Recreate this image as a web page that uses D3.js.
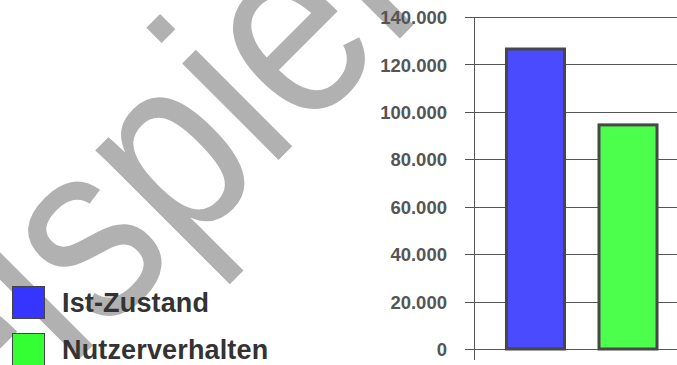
<!DOCTYPE html>
<html>
<head>
<meta charset="utf-8">
<script src="https://cdn.jsdelivr.net/npm/d3@7"></script>
<style>
  html, body { margin: 0; padding: 0; background: #fff; }
  svg { display: block; }
</style>
</head>
<body>
<svg id="chart" width="677" height="365"></svg>
<script>
// Chart data
const categories = ["Ist-Zustand", "Nutzerverhalten"];
const values = [126500, 94500];
const colors = ["#4a4aff", "#4cff4c"];
const legendColors = ["#3535ff", "#33ff33"];
const yTicks = [0, 20000, 40000, 60000, 80000, 100000, 120000, 140000];
const watermarkText = "Beispiel";

const W = 677, H = 365;
const svg = d3.select("#chart");

const de = d3.formatLocale({ decimal: ",", thousands: ".", grouping: [3], currency: ["", " €"] });
const fmt = de.format(",.0f");

// Watermark, diagonal across the left half
svg.append("text")
  .attr("transform", "translate(-121.6,560) rotate(-45) scale(0.854,1)")
  .attr("font-family", "'Liberation Sans', Arial, sans-serif")
  .attr("font-size", 258)
  .attr("fill", "#b1b1b1")
  .text(watermarkText);

// Scales
const y = d3.scaleLinear().domain([0, 140000]).range([349, 17]);
const x = d3.scaleBand().domain(categories).range([474, 689.5])
  .paddingInner(0.373).paddingOuter(0.351);

const axisColor = "#555";

// Gridlines
svg.append("g").selectAll("line").data(yTicks).join("line")
  .attr("x1", 465).attr("x2", W)
  .attr("y1", d => Math.round(y(d)) + 0.5).attr("y2", d => Math.round(y(d)) + 0.5)
  .attr("stroke", axisColor).attr("stroke-width", 1);

// Bars
svg.append("g").selectAll("rect").data(values).join("rect")
  .attr("x", (d, i) => x(categories[i]))
  .attr("width", x.bandwidth())
  .attr("y", d => y(d))
  .attr("height", d => y(0) - y(d))
  .attr("fill", (d, i) => colors[i])
  .attr("stroke", "#474747")
  .attr("stroke-width", 3);

// Y axis line
svg.append("line")
  .attr("x1", 474.5).attr("x2", 474.5)
  .attr("y1", y(140000)).attr("y2", 360)
  .attr("stroke", axisColor).attr("stroke-width", 1);

// Tick labels
const yAxis = d3.axisLeft(y).tickValues(yTicks).tickFormat(fmt).tickSize(0).tickPadding(0);
const ga = svg.append("g").attr("transform", "translate(447,0)").call(yAxis);
ga.select(".domain").remove();
ga.selectAll("text")
  .attr("font-family", "'Liberation Sans', Arial, sans-serif")
  .attr("font-size", 18.5)
  .attr("font-weight", "bold")
  .attr("fill", "#555")
  .attr("dy", "0.36em");

// Legend
const legend = svg.append("g");
const items = legend.selectAll("g").data(categories).join("g")
  .attr("transform", (d, i) => `translate(0,${286 + i * 47})`);
items.append("rect")
  .attr("x", 12.5).attr("y", 0.5).attr("width", 32).attr("height", 32)
  .attr("fill", (d, i) => legendColors[i])
  .attr("stroke", "#444").attr("stroke-width", 1);
items.append("text")
  .attr("x", 62).attr("y", 25.7)
  .attr("font-family", "'Liberation Sans', Arial, sans-serif")
  .attr("font-size", 27)
  .attr("font-weight", "bold")
  .attr("letter-spacing", 0.15)
  .attr("fill", "#333")
  .text(d => d);
</script>
</body>
</html>
